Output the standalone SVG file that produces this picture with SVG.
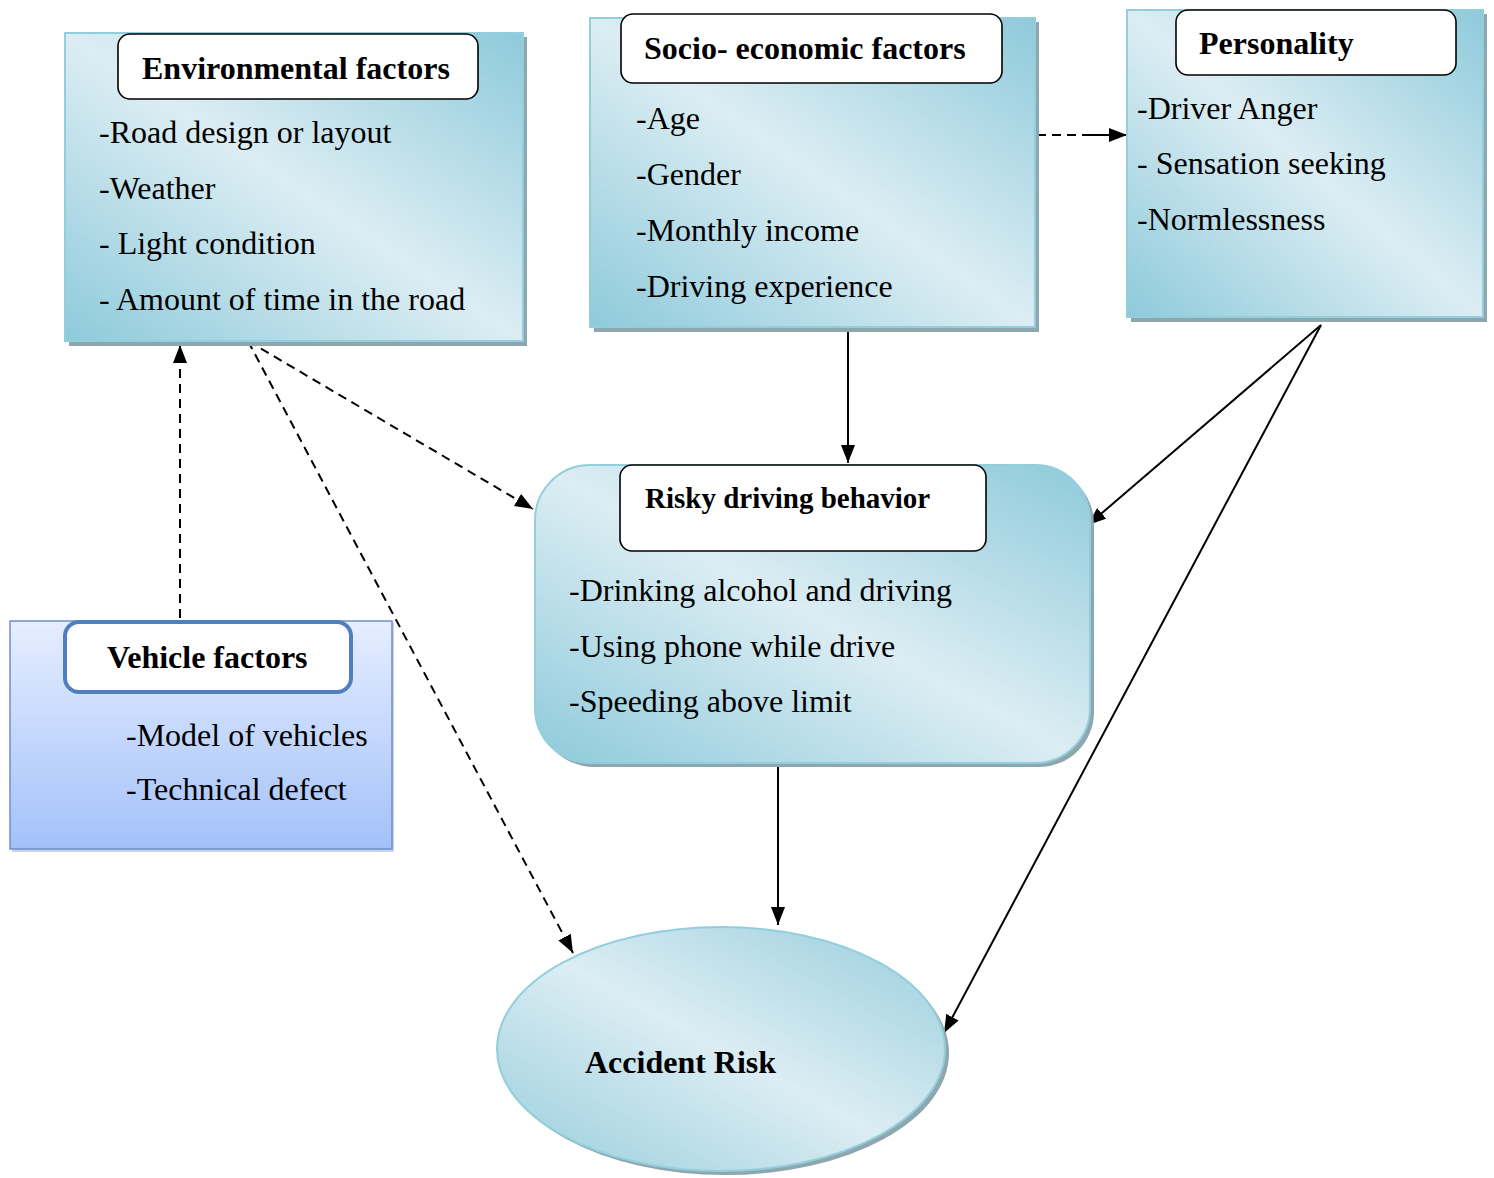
<svg xmlns="http://www.w3.org/2000/svg" width="1494" height="1178" viewBox="0 0 1494 1178">
<defs>
<linearGradient id="blueDiag" x1="1" y1="0" x2="0" y2="1">
<stop offset="0" stop-color="#8ecadb"/>
<stop offset="0.5" stop-color="#dcedf3"/>
<stop offset="1" stop-color="#8ecadb"/>
</linearGradient>
<linearGradient id="ellGrad" x1="1" y1="0" x2="0" y2="1">
<stop offset="0" stop-color="#96cddc"/>
<stop offset="0.5" stop-color="#dcedf3"/>
<stop offset="1" stop-color="#96cddc"/>
</linearGradient>
<linearGradient id="vehGrad" x1="0" y1="0" x2="0" y2="1">
<stop offset="0" stop-color="#e6eeff"/>
<stop offset="1" stop-color="#a3c1f9"/>
</linearGradient>
<marker id="arr" markerUnits="userSpaceOnUse" markerWidth="20" markerHeight="16" refX="18" refY="7" orient="auto">
<path d="M0,0 L18,7 L0,14 z" fill="#000"/>
</marker>
</defs>
<style>
.shadow{fill:#8ea6ad}
.panel{fill:url(#blueDiag);stroke:#93cedd;stroke-width:2}
.title{fill:#fff;stroke:#000;stroke-width:1.6}
.tt{font-family:"Liberation Serif","Times New Roman",serif;font-weight:bold;font-size:32px;fill:#000}
.bt{font-family:"Liberation Serif","Times New Roman",serif;font-size:32px;fill:#000}
.c{fill:none;stroke:#000;stroke-width:2}
.d{stroke-dasharray:9 6}
</style>
<rect width="1494" height="1178" fill="#fff"/>

<g id="connectors">
<path class="c d" d="M180,618 L180,345" marker-end="url(#arr)"/>
<path class="c d" d="M248,341 L533,509" marker-end="url(#arr)"/>
<path class="c d" d="M248,341 L573,953" marker-end="url(#arr)"/>
<path class="c" d="M848,325 L848,463" marker-end="url(#arr)"/>
<path class="c d" d="M1037,135 L1090,135"/>
<path class="c" d="M1088,135 L1127,135" marker-end="url(#arr)"/>
<path class="c" d="M1321,325 L1088,525" marker-end="url(#arr)"/>
<path class="c" d="M1321,325 L944,1033" marker-end="url(#arr)"/>
<path class="c" d="M778,762 L778,925" marker-end="url(#arr)"/>
</g>

<g id="environmental">
<rect class="shadow" x="69" y="37" width="458" height="309"/>
<rect class="panel" x="65" y="33" width="458" height="308"/>
<rect class="title" x="118" y="34" width="360" height="65" rx="12"/>
<text class="tt" x="142" y="79">Environmental factors</text>
<text class="bt" x="99" y="143">-Road design or layout</text>
<text class="bt" x="99" y="199">-Weather</text>
<text class="bt" x="99" y="254">- Light condition</text>
<text class="bt" x="99" y="310">- Amount of time in the road</text>
</g>

<g id="socio">
<rect class="shadow" x="594" y="22" width="445" height="310"/>
<rect class="panel" x="590" y="18" width="445" height="309"/>
<rect class="title" x="621" y="14" width="381" height="69" rx="12"/>
<text class="tt" x="644" y="59">Socio- economic factors</text>
<text class="bt" x="636" y="129">-Age</text>
<text class="bt" x="636" y="185">-Gender</text>
<text class="bt" x="636" y="241">-Monthly income</text>
<text class="bt" x="636" y="297">-Driving experience</text>
</g>

<g id="personality">
<rect class="shadow" x="1131" y="14" width="356" height="308"/>
<rect class="panel" x="1127" y="10" width="356" height="307"/>
<rect class="title" x="1176" y="10" width="280" height="65" rx="12"/>
<text class="tt" x="1199" y="54">Personality</text>
<text class="bt" x="1137" y="119">-Driver Anger</text>
<text class="bt" x="1137" y="174">- Sensation seeking</text>
<text class="bt" x="1137" y="230">-Normlessness</text>
</g>

<g id="vehicle">
<rect x="12" y="623" width="382" height="229" fill="#c9d3e3"/>
<rect x="10" y="621" width="382" height="228" fill="url(#vehGrad)" stroke="#6d8fca" stroke-width="1.5"/>
<rect x="65" y="622" width="286" height="70" rx="14" fill="#fff" stroke="#4f7fbf" stroke-width="4"/>
<text class="tt" x="107" y="668">Vehicle factors</text>
<text class="bt" x="126" y="746">-Model of vehicles</text>
<text class="bt" x="126" y="800">-Technical defect</text>
</g>

<g id="risky">
<rect class="shadow" x="539" y="469" width="555" height="298" rx="55"/>
<rect class="panel" x="535" y="465" width="555" height="298" rx="55"/>
<rect class="title" x="620" y="465" width="366" height="86" rx="12"/>
<text class="tt" x="645" y="508" style="font-size:29px">Risky driving behavior</text>
<text class="bt" x="569" y="601">-Drinking alcohol and driving</text>
<text class="bt" x="569" y="657">-Using phone while drive</text>
<text class="bt" x="569" y="712">-Speeding above limit</text>
</g>

<g id="accident">
<ellipse cx="725" cy="1053" rx="224" ry="122" class="shadow"/>
<ellipse cx="721" cy="1049" rx="224" ry="122" fill="url(#ellGrad)" stroke="#93cedd" stroke-width="2"/>
<text class="tt" x="585" y="1073">Accident Risk</text>
</g>
</svg>
